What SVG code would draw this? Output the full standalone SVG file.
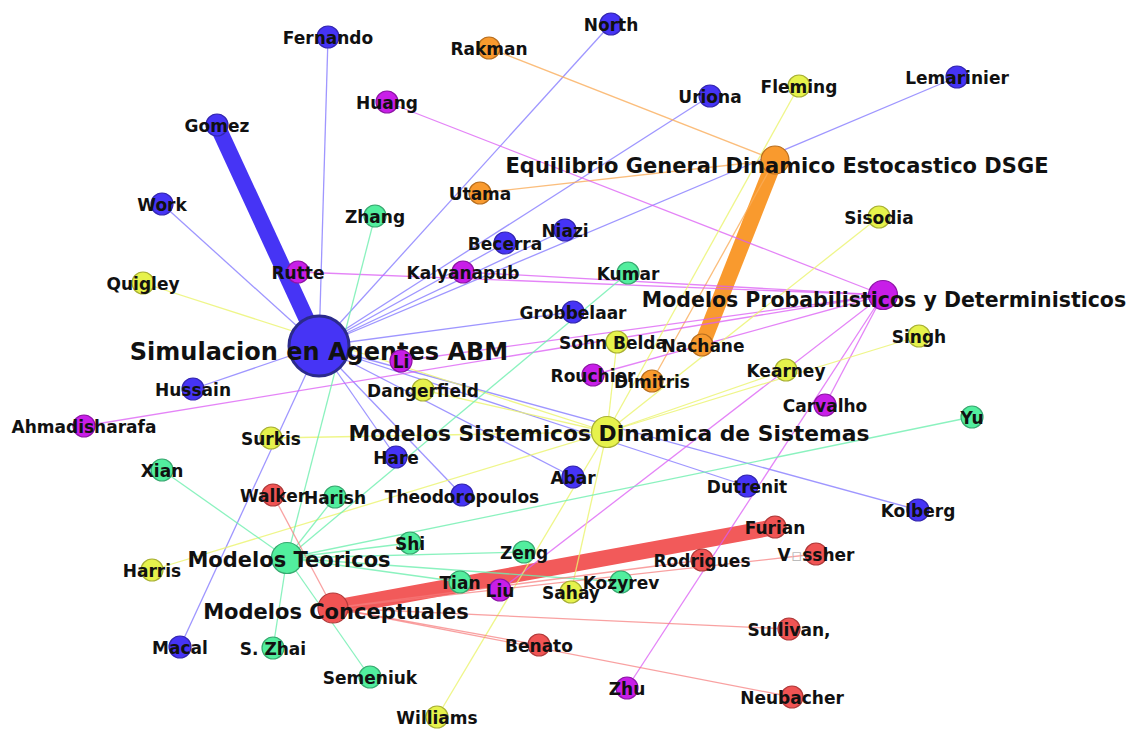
<svg xmlns="http://www.w3.org/2000/svg" width="1133" height="732" viewBox="0 0 1133 732">
<style>
text{font-family:"DejaVu Sans","Liberation Sans",sans-serif;font-weight:bold;fill:#111;text-anchor:middle}
.lab{font-size:17px}
.hub{font-size:21px}
.tofu{fill:#bbb;font-weight:normal}
line{stroke-linecap:butt}
.eb{stroke:#7f74ff;stroke-width:1.3;opacity:.75}
.ep{stroke:#dc5cf5;stroke-width:1.3;opacity:.75}
.ey{stroke:#ecf56e;stroke-width:1.3;opacity:.8}
.eg{stroke:#6ff0b0;stroke-width:1.3;opacity:.8}
.er{stroke:#f77a7a;stroke-width:1.3;opacity:.7}
.eo{stroke:#fbae5c;stroke-width:1.3;opacity:.8}
circle{stroke-width:1.2}
.nb circle{fill:#4634f5;stroke:#3326b0}
.np circle{fill:#c81ee8;stroke:#8e15a6}
.ny circle{fill:#e6f24c;stroke:#a8b034}
.ng circle{fill:#52ee9e;stroke:#38a870}
.nr circle{fill:#f05454;stroke:#b03a3a}
.no circle{fill:#f99a2e;stroke:#b86e1e}
</style>
<rect width="1133" height="732" fill="#fff"/>
<g id="edges">
<!-- thick edges -->
<line x1="217" y1="125" x2="319" y2="346" stroke="#4634f5" stroke-width="16"/>
<line x1="702" y1="345" x2="775" y2="160" stroke="#f99a2e" stroke-width="16"/>
<line x1="333" y1="608" x2="775" y2="527" stroke="#f25a5a" stroke-width="16"/>
<!-- Simulacion edges -->
<line class="eb" x1="319" y1="346" x2="328" y2="37"/>
<line class="eb" x1="319" y1="346" x2="611" y2="24"/>
<line class="eb" x1="319" y1="346" x2="162" y2="204"/>
<line class="eb" x1="319" y1="346" x2="710" y2="96"/>
<line class="eb" x1="319" y1="346" x2="957" y2="77"/>
<line class="eb" x1="319" y1="346" x2="505" y2="243"/>
<line class="eb" x1="319" y1="346" x2="565" y2="230"/>
<line class="eb" x1="319" y1="346" x2="573" y2="312"/>
<line class="eb" x1="319" y1="346" x2="193" y2="389"/>
<line class="eb" x1="319" y1="346" x2="396" y2="457"/>
<line class="eb" x1="319" y1="346" x2="573" y2="477"/>
<line class="eb" x1="319" y1="346" x2="462" y2="495"/>
<line class="eb" x1="319" y1="346" x2="747" y2="486"/>
<line class="eb" x1="319" y1="346" x2="918" y2="510"/>
<line class="eb" x1="319" y1="346" x2="180" y2="647"/>
<!-- DSGE edges -->
<line class="eo" x1="775" y1="160" x2="489" y2="48"/>
<line class="eo" x1="775" y1="160" x2="480" y2="193"/>
<line class="eo" x1="775" y1="160" x2="652" y2="381"/>
<!-- Probabilisticos edges -->
<line class="ep" x1="883" y1="295" x2="387" y2="102"/>
<line class="ep" x1="883" y1="295" x2="298" y2="272"/>
<line class="ep" x1="883" y1="295" x2="463" y2="272"/>
<line class="ep" x1="883" y1="295" x2="401" y2="361"/>
<line class="ep" x1="883" y1="295" x2="593" y2="375"/>
<line class="ep" x1="883" y1="295" x2="84" y2="426"/>
<line class="ep" x1="883" y1="295" x2="825" y2="405"/>
<line class="ep" x1="883" y1="295" x2="500" y2="590"/>
<line class="ep" x1="883" y1="295" x2="627" y2="688"/>
<!-- Sistemicos edges -->
<line class="ey" x1="607" y1="432" x2="799" y2="86"/>
<line class="ey" x1="607" y1="432" x2="879" y2="217"/>
<line class="ey" x1="607" y1="432" x2="919" y2="336"/>
<line class="ey" x1="607" y1="432" x2="786" y2="370"/>
<line class="ey" x1="607" y1="432" x2="617" y2="342"/>
<line class="ey" x1="607" y1="432" x2="143" y2="283"/>
<line class="ey" x1="607" y1="432" x2="423" y2="390"/>
<line class="ey" x1="607" y1="432" x2="271" y2="438"/>
<line class="ey" x1="607" y1="432" x2="152" y2="570"/>
<line class="ey" x1="607" y1="432" x2="571" y2="592"/>
<line class="ey" x1="607" y1="432" x2="437" y2="717"/>
<!-- Teoricos edges -->
<line class="eg" x1="287" y1="558" x2="375" y2="216"/>
<line class="eg" x1="287" y1="558" x2="628" y2="273"/>
<line class="eg" x1="287" y1="558" x2="972" y2="417"/>
<line class="eg" x1="287" y1="558" x2="162" y2="470"/>
<line class="eg" x1="287" y1="558" x2="335" y2="497"/>
<line class="eg" x1="287" y1="558" x2="410" y2="543"/>
<line class="eg" x1="287" y1="558" x2="524" y2="552"/>
<line class="eg" x1="287" y1="558" x2="460" y2="582"/>
<line class="eg" x1="287" y1="558" x2="621" y2="582"/>
<line class="eg" x1="287" y1="558" x2="273" y2="648"/>
<line class="eg" x1="287" y1="558" x2="370" y2="677"/>
<!-- Conceptuales edges -->
<line class="er" x1="333" y1="608" x2="273" y2="495"/>
<line class="er" x1="333" y1="608" x2="702" y2="560"/>
<line class="er" x1="333" y1="608" x2="816" y2="554"/>
<line class="er" x1="333" y1="608" x2="789" y2="629"/>
<line class="er" x1="333" y1="608" x2="539" y2="645"/>
<line class="er" x1="333" y1="608" x2="792" y2="697"/>
</g>
<g id="n-simulacion" class="nb"><circle cx="319" cy="346" r="30" stroke="#2b2a8c" style="stroke:#2b2a8c;stroke-width:3"/><text class="hub" x="319" y="360" style="font-size:24px">Simulacion en Agentes ABM</text></g>
<g id="n-fernando" class="nb"><circle cx="328" cy="37" r="11"/><text class="lab" x="328" y="44">Fernando</text></g>
<g id="n-north" class="nb"><circle cx="611" cy="24" r="11"/><text class="lab" x="611" y="31">North</text></g>
<g id="n-gomez" class="nb"><circle cx="217" cy="125" r="11"/><text class="lab" x="217" y="132">Gomez</text></g>
<g id="n-work" class="nb"><circle cx="162" cy="204" r="11"/><text class="lab" x="162" y="211">Work</text></g>
<g id="n-uriona" class="nb"><circle cx="710" cy="96" r="11"/><text class="lab" x="710" y="103">Uriona</text></g>
<g id="n-lemarinier" class="nb"><circle cx="957" cy="77" r="11"/><text class="lab" x="957" y="84">Lemarinier</text></g>
<g id="n-becerra" class="nb"><circle cx="505" cy="243" r="11"/><text class="lab" x="505" y="250">Becerra</text></g>
<g id="n-niazi" class="nb"><circle cx="565" cy="230" r="11"/><text class="lab" x="565" y="237">Niazi</text></g>
<g id="n-grobbelaar" class="nb"><circle cx="573" cy="312" r="11"/><text class="lab" x="573" y="319">Grobbelaar</text></g>
<g id="n-hussain" class="nb"><circle cx="193" cy="389" r="11"/><text class="lab" x="193" y="396">Hussain</text></g>
<g id="n-hare" class="nb"><circle cx="396" cy="457" r="11"/><text class="lab" x="396" y="464">Hare</text></g>
<g id="n-abar" class="nb"><circle cx="573" cy="477" r="11"/><text class="lab" x="573" y="484">Abar</text></g>
<g id="n-theodoropoulos" class="nb"><circle cx="462" cy="495" r="11"/><text class="lab" x="462" y="503">Theodoropoulos</text></g>
<g id="n-dutrenit" class="nb"><circle cx="747" cy="486" r="11"/><text class="lab" x="747" y="493">Dutrenit</text></g>
<g id="n-kolberg" class="nb"><circle cx="918" cy="510" r="11"/><text class="lab" x="918" y="517">Kolberg</text></g>
<g id="n-macal" class="nb"><circle cx="180" cy="647" r="11"/><text class="lab" x="180" y="654">Macal</text></g>
<g id="n-rakman" class="no"><circle cx="489" cy="48" r="11"/><text class="lab" x="489" y="55">Rakman</text></g>
<g id="n-utama" class="no"><circle cx="480" cy="193" r="11"/><text class="lab" x="480" y="200">Utama</text></g>
<g id="n-huang" class="np"><circle cx="387" cy="102" r="11"/><text class="lab" x="387" y="109">Huang</text></g>
<g id="n-rutte" class="np"><circle cx="298" cy="272" r="11"/><text class="lab" x="298" y="279">Rutte</text></g>
<g id="n-kalyanapub" class="np"><circle cx="463" cy="272" r="11"/><text class="lab" x="463" y="279">Kalyanapub</text></g>
<g id="n-li" class="np"><circle cx="401" cy="361" r="11"/><text class="lab" x="401" y="368">Li</text></g>
<g id="n-sohnbelda" class="ny"><circle cx="617" cy="342" r="11"/><text class="lab" x="613" y="349">Sohn Belda</text></g>
<g id="n-nachane" class="no"><circle cx="702" cy="345" r="11"/><text class="lab" x="703" y="352">Nachane</text></g>
<g id="n-rouchier" class="np"><circle cx="593" cy="375" r="11"/><text class="lab" x="593" y="382">Rouchier</text></g>
<g id="n-dimitris" class="no"><circle cx="652" cy="381" r="11"/><text class="lab" x="652" y="388">Dimitris</text></g>
<g id="n-ahmadisharafa" class="np"><circle cx="84" cy="426" r="11"/><text class="lab" x="84" y="433">Ahmadisharafa</text></g>
<g id="n-carvalho" class="np"><circle cx="825" cy="405" r="11"/><text class="lab" x="825" y="412">Carvalho</text></g>
<g id="n-fleming" class="ny"><circle cx="799" cy="86" r="11"/><text class="lab" x="799" y="93">Fleming</text></g>
<g id="n-sisodia" class="ny"><circle cx="879" cy="217" r="11"/><text class="lab" x="879" y="224">Sisodia</text></g>
<g id="n-quigley" class="ny"><circle cx="143" cy="283" r="11"/><text class="lab" x="143" y="290">Quigley</text></g>
<g id="n-singh" class="ny"><circle cx="919" cy="336" r="11"/><text class="lab" x="919" y="343">Singh</text></g>
<g id="n-kearney" class="ny"><circle cx="786" cy="370" r="11"/><text class="lab" x="786" y="377">Kearney</text></g>
<g id="n-dangerfield" class="ny"><circle cx="423" cy="390" r="11"/><text class="lab" x="423" y="397">Dangerfield</text></g>
<g id="n-surkis" class="ny"><circle cx="271" cy="438" r="11"/><text class="lab" x="271" y="445">Surkis</text></g>
<g id="n-harris" class="ny"><circle cx="152" cy="570" r="11"/><text class="lab" x="152" y="577">Harris</text></g>
<g id="n-zhang" class="ng"><circle cx="375" cy="216" r="11"/><text class="lab" x="375" y="223">Zhang</text></g>
<g id="n-kumar" class="ng"><circle cx="628" cy="273" r="11"/><text class="lab" x="628" y="280">Kumar</text></g>
<g id="n-yu" class="ng"><circle cx="972" cy="417" r="11"/><text class="lab" x="972" y="424">Yu</text></g>
<g id="n-xian" class="ng"><circle cx="162" cy="470" r="11"/><text class="lab" x="162" y="477">Xian</text></g>
<g id="n-walker" class="nr"><circle cx="273" cy="495" r="11"/><text class="lab" x="273" y="502">Walker</text></g>
<g id="n-harish" class="ng"><circle cx="335" cy="497" r="11"/><text class="lab" x="335" y="504">Harish</text></g>
<g id="n-shi" class="ng"><circle cx="410" cy="543" r="11"/><text class="lab" x="410" y="550">Shi</text></g>
<g id="n-zeng" class="ng"><circle cx="524" cy="552" r="11"/><text class="lab" x="524" y="559">Zeng</text></g>
<g id="n-tian" class="ng"><circle cx="460" cy="582" r="11"/><text class="lab" x="460" y="589">Tian</text></g>
<g id="n-liu" class="np"><circle cx="500" cy="590" r="11"/><text class="lab" x="500" y="597">Liu</text></g>
<g id="n-sahay" class="ny"><circle cx="571" cy="592" r="11"/><text class="lab" x="571" y="599">Sahay</text></g>
<g id="n-kozyrev" class="ng"><circle cx="621" cy="582" r="11"/><text class="lab" x="621" y="589">Kozyrev</text></g>
<g id="n-szhai" class="ng"><circle cx="273" cy="648" r="11"/><text class="lab" x="273" y="655">S. Zhai</text></g>
<g id="n-semeniuk" class="ng"><circle cx="370" cy="677" r="11"/><text class="lab" x="370" y="684">Semeniuk</text></g>
<g id="n-williams" class="ny"><circle cx="437" cy="717" r="11"/><text class="lab" x="437" y="724">Williams</text></g>
<g id="n-furian" class="nr"><circle cx="775" cy="527" r="11"/><text class="lab" x="775" y="534">Furian</text></g>
<g id="n-vossher" class="nr"><circle cx="816" cy="554" r="11"/><text class="lab" x="816" y="561">V<tspan class="tofu">▫</tspan>ssher</text></g>
<g id="n-rodrigues" class="nr"><circle cx="702" cy="560" r="11"/><text class="lab" x="702" y="567">Rodrigues</text></g>
<g id="n-sullivan" class="nr"><circle cx="789" cy="629" r="11"/><text class="lab" x="789" y="636">Sullivan,</text></g>
<g id="n-benato" class="nr"><circle cx="539" cy="645" r="11"/><text class="lab" x="539" y="652">Benato</text></g>
<g id="n-zhu" class="np"><circle cx="627" cy="688" r="11"/><text class="lab" x="627" y="695">Zhu</text></g>
<g id="n-neubacher" class="nr"><circle cx="792" cy="697" r="11"/><text class="lab" x="792" y="704">Neubacher</text></g>
<g id="n-dsge" class="no"><circle cx="775" cy="160" r="14"/><text class="hub" x="777" y="173">Equilibrio General Dinamico Estocastico DSGE</text></g>
<g id="n-probabilisticos" class="np"><circle cx="883" cy="295" r="14.5"/><text class="hub" x="884" y="307" style="font-size:20.5px">Modelos Probabilisticos y Deterministicos</text></g>
<g id="n-sistemicos" class="ny"><circle cx="607" cy="432" r="15.5"/><text class="hub" x="609" y="441" style="font-size:21.8px">Modelos Sistemicos Dinamica de Sistemas</text></g>
<g id="n-teoricos" class="ng"><circle cx="287" cy="558" r="15.5"/><text class="hub" x="289" y="567">Modelos Teoricos</text></g>
<g id="n-conceptuales" class="nr"><circle cx="333" cy="608" r="15"/><text class="hub" x="336" y="619">Modelos Conceptuales</text></g>
</svg>
